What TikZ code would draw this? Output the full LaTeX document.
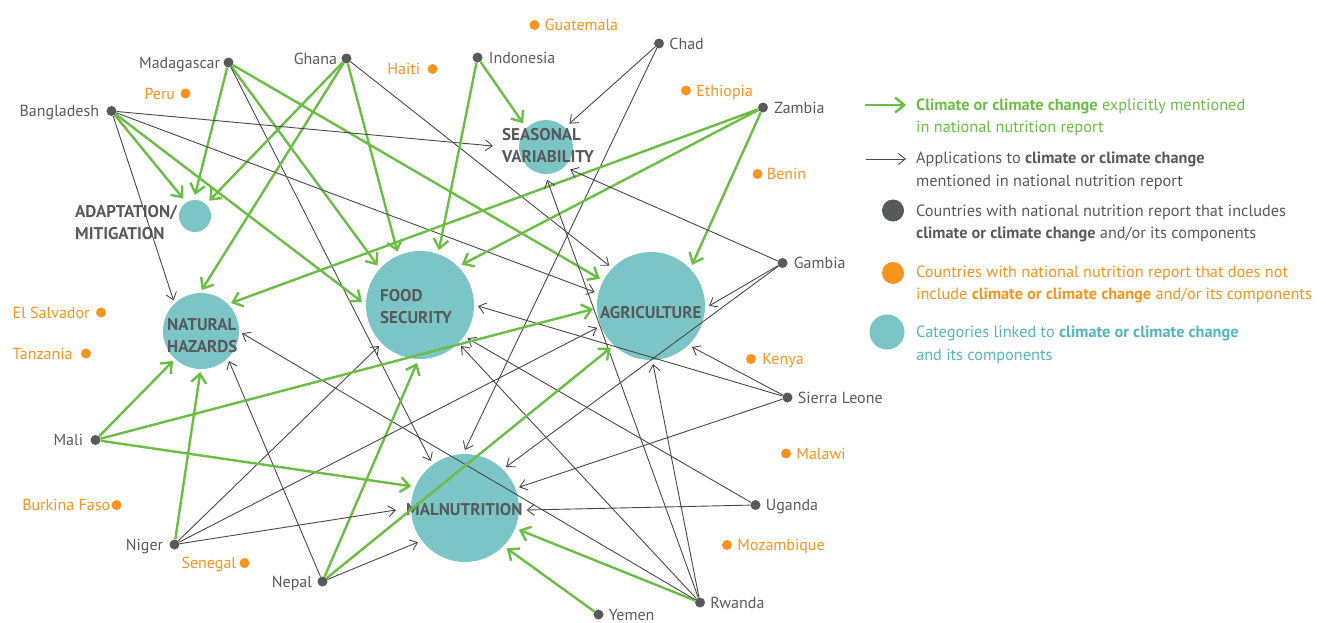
\documentclass[tikz,border=0pt]{standalone}
\usepackage{fontspec}
\setmainfont{PT Sans}
\usetikzlibrary{positioning,arrows.meta}
\definecolor{expl}{RGB}{108,189,69}
\definecolor{appl}{RGB}{72,72,74}
\definecolor{cntry}{RGB}{88,89,91}
\definecolor{noinc}{RGB}{247,148,29}
\definecolor{catfill}{RGB}{124,197,199}
\definecolor{cattext}{RGB}{84,182,187}
\tikzset{
  cat/.style={circle,fill=catfill,inner sep=0pt,outer sep=4pt},
  catlbl/.style={anchor=west,align=left,inner sep=0pt,text=cntry,font=\bfseries\fontsize{17}{22}\selectfont},
  cdot/.style={circle,fill=cntry,inner sep=0pt,minimum size=10pt},
  odot/.style={circle,fill=noinc,inner sep=0pt,minimum size=10pt},
  clbl/.style={inner sep=0pt,text=cntry,font=\fontsize{16}{18}\selectfont,text height=11.3pt,text depth=0pt},
  olbl/.style={clbl,text=noinc},
  gline/.style={draw=expl,line width=2.4pt,->,>={Straight Barb[length=9pt,width=15pt]}},
  bline/.style={draw=appl,line width=0.9pt,->,>={Straight Barb[length=7pt,width=11pt]}},
  lgtext/.style={anchor=west,align=left,inner sep=0pt,font=\fontsize{16.3}{22.5}\selectfont},
}
\begin{document}
\begin{tikzpicture}[x=1pt,y=-1pt]
\useasboundingbox (0,0) rectangle (1326,622);

% categories
\node[cat,minimum size=32pt,outer sep=5pt] (ad) at (195,216) {};
\node[cat,minimum size=54pt,outer sep=6pt] (sv) at (546,147) {};
\node[cat,minimum size=76pt,outer sep=3pt] (nh) at (201,331) {};
\node[cat,minimum size=108pt] (fs) at (420,305) {};
\node[cat,minimum size=108pt] (ag) at (651,306) {};
\node[cat,minimum size=108pt] (mn) at (465,508) {};

\node[catlbl] (adl) at (75,223) {ADAPTATION/\\MITIGATION};
\node[catlbl] (svl) at (502,146) {SEASONAL\\VARIABILITY};
\node[catlbl] (nhl) at (167,336) {NATURAL\\HAZARDS};
\node[catlbl] (fsl) at (380,307) {FOOD\\SECURITY};
\node[catlbl] (agl) at (600,313) {AGRICULTURE};
\node[catlbl] (mnl) at (406,510) {MALNUTRITION};

% countries that include climate
\node[cdot] (mad) at (228.5,62.5) {};
\node[clbl,left=3pt of mad] (madl) {Madagascar};
\node[cdot] (gha) at (346.5,58.5) {};
\node[clbl,left=4pt of gha] (ghal) {Ghana};
\node[cdot] (ban) at (111.5,111) {};
\node[clbl,left=7pt of ban] (banl) {Bangladesh};
\node[cdot] (ind) at (477.5,57.5) {};
\node[clbl,right=6pt of ind] (indl) {Indonesia};
\node[cdot] (chad) at (659,43.5) {};
\node[clbl,right=5pt of chad] (chadl) {Chad};
\node[cdot] (zam) at (763,107.5) {};
\node[clbl,right=6pt of zam] (zaml) {Zambia};
\node[cdot] (gam) at (782.5,263) {};
\node[clbl,right=6pt of gam] (gaml) {Gambia};
\node[cdot] (sle) at (787.5,397.5) {};
\node[clbl,right=5pt of sle] (slel) {Sierra Leone};
\node[cdot] (uga) at (755.5,505) {};
\node[clbl,right=5pt of uga] (ugal) {Uganda};
\node[cdot] (rwa) at (700,602.5) {};
\node[clbl,right=5pt of rwa] (rwal) {Rwanda};
\node[cdot] (yem) at (598.5,614.5) {};
\node[clbl,right=5pt of yem] (yeml) {Yemen};
\node[cdot] (nep) at (322.5,581.5) {};
\node[clbl,left=5pt of nep] (nepl) {Nepal};
\node[cdot] (nig) at (174.5,544.5) {};
\node[clbl,left=6pt of nig] (nigl) {Niger};
\node[cdot] (mali) at (95.5,440) {};
\node[clbl,left=7pt of mali] (malil) {Mali};

% countries without climate
\node[odot] (gua) at (534.5,25) {};
\node[olbl,right=5pt of gua] (gual) {Guatemala};
\node[odot] (hai) at (432.5,69) {};
\node[olbl,left=7pt of hai] (hail) {Haiti};
\node[odot] (per) at (185.5,93.5) {};
\node[olbl,left=5pt of per] (perl) {Peru};
\node[odot] (eth) at (686,90.5) {};
\node[olbl,right=5pt of eth] (ethl) {Ethiopia};
\node[odot] (ben) at (757.5,174) {};
\node[olbl,right=4pt of ben] (benl) {Benin};
\node[odot] (ken) at (751,359) {};
\node[olbl,right=6pt of ken] (kenl) {Kenya};
\node[odot] (mlw) at (786,453.5) {};
\node[olbl,right=5pt of mlw] (mlwl) {Malawi};
\node[odot] (moz) at (727,545) {};
\node[olbl,right=5pt of moz] (mozl) {Mozambique};
\node[odot] (els) at (101,312.5) {};
\node[olbl,left=6pt of els] (elsl) {El Salvador};
\node[odot] (tan) at (86,353.5) {};
\node[olbl,left=8pt of tan] (tanl) {Tanzania};
\node[odot] (bfa) at (116.5,505) {};
\node[olbl,left=1pt of bfa] (bfal) {Burkina Faso};
\node[odot] (sen) at (244.5,563) {};
\node[olbl,left=3pt of sen] (senl) {Senegal};

% links
\draw[gline] (mad) -- (ad.90);
\draw[gline] (mad) -- (fs.137);
\draw[gline] (mad) -- (ag.152);
\draw[bline] (mad) -- (mn.126);
\draw[gline] (gha) -- (ad.47);
\draw[gline] (gha) -- (nh.89);
\draw[gline] (gha) -- (fs.113);
\draw[bline] (gha) -- (ag.136);
\draw[gline] (ban) -- (ad.124);
\draw[gline] (ban) -- (fs.177);
\draw[bline] (ban) -- (nh.132);
\draw[bline] (ban) -- ([xshift=-9pt]svl.west);
\draw[bline] (ban) -- (ag.166);
\draw[gline] (ind) -- (sv.134);
\draw[gline] (ind) -- (fs.71);
\draw[bline] (chad) -- (sv.45);
\draw[bline] (chad) -- (mn.90);
\draw[gline] (zam) -- (nh.43);
\draw[gline] (zam) -- (fs.44);
\draw[gline] (zam) -- (ag.45);
\draw[bline] (gam) -- (sv.317);
\draw[bline] (gam) -- (ag.0);
\draw[bline] (gam) -- (mn.45);
\draw[bline] (sle) -- (ag.315);
\draw[bline] (sle) -- (fs.359);
\draw[bline] (sle) -- (mn.21);
\draw[bline] (uga) -- ([xshift=4pt]mnl.east);
\draw[bline] (uga) -- (fs.325);
\draw[gline] (rwa) -- (mn.338);
\draw[bline] (rwa) -- (ag.272);
\draw[bline] (rwa) -- (fs.315);
\draw[bline] (rwa) -- (nh.357);
\draw[bline] (rwa) -- (sv.272);
\draw[gline] (yem) -- (mn.316);
\draw[bline] (nep) -- (nh.313);
\draw[gline] (nep) -- (fs.267);
\draw[gline] (nep) -- (ag.226);
\draw[bline] (nep) -- (mn.216);
\draw[gline] (nig) -- (nh.269);
\draw[bline] (nig) -- (fs.225);
\draw[bline] (nig) -- (ag.202);
\draw[bline] (nig) -- ([xshift=-10pt]mnl.west);
\draw[gline] (mali) -- (nh.227);
\draw[gline] (mali) -- (ag.183);
\draw[gline] (mali) -- (mn.158);

% legend
\coordinate (lgga) at (865,105);
\coordinate (lggb) at (906,105);
\draw[gline] (lgga) -- (lggb);
\node[lgtext,text=expl] (lg1) at (916,117.5) {\textbf{Climate or climate change} explicitly mentioned\\in national nutrition report};
\coordinate (lgba) at (866,159);
\coordinate (lgbb) at (906,159);
\draw[bline] (lgba) -- (lgbb);
\node[lgtext,text=cntry] (lg2) at (916,171) {Applications to \textbf{climate or climate change}\\mentioned in national nutrition report};
\node[cdot,minimum size=22pt] (lgcd) at (893,210.5) {};
\node[lgtext,text=cntry] (lg3) at (916,223.5) {Countries with national nutrition report that includes\\\textbf{climate or climate change} and/or its components};
\node[odot,minimum size=22pt] (lgod) at (893,273) {};
\node[lgtext,text=noinc] (lg4) at (916,284.5) {Countries with national nutrition report that does not\\include \textbf{climate or climate change} and/or its components};
\node[cat,minimum size=35pt] (lgcat) at (887,332) {};
\node[lgtext,text=cattext] (lg5) at (916,345) {Categories linked to \textbf{climate or climate change}\\and its components};
\end{tikzpicture}
\end{document}
